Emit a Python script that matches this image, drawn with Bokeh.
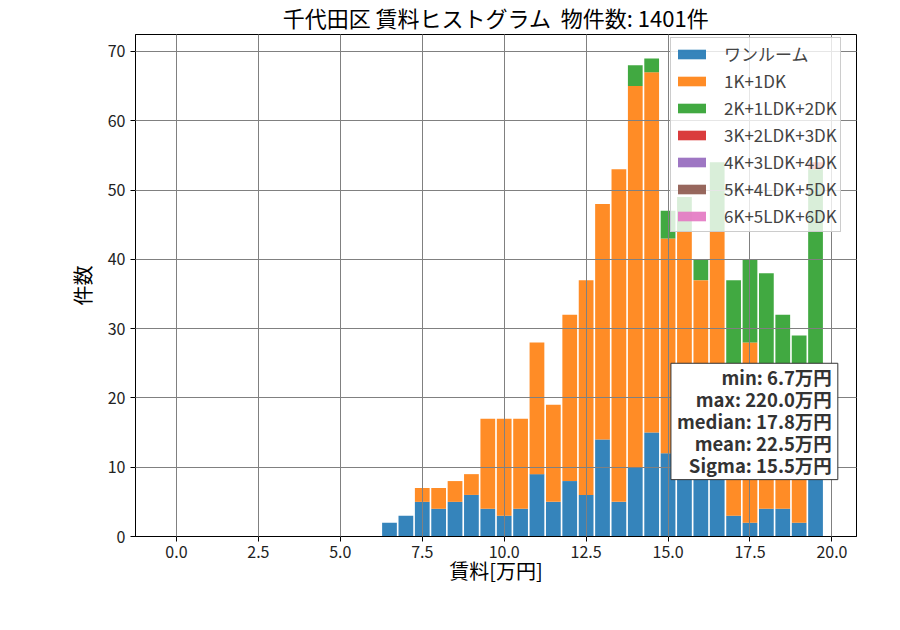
# 千代田区 賃料ヒストグラム (stacked by floor plan) with bokeh

from bokeh.plotting import figure
from bokeh.models import Range1d, FixedTicker, PrintfTickFormatter, Label, ColumnDataSource
from bokeh.embed import file_html
from bokeh.resources import INLINE

FONT = "Noto Sans CJK JP"

# bin centres [万円] (bins 0.5 wide)
rent = [6.5, 7.0, 7.5, 8.0, 8.5, 9.0, 9.5, 10.0, 10.5, 11.0, 11.5, 12.0, 12.5, 13.0,
        13.5, 14.0, 14.5, 15.0, 15.5, 16.0, 16.5, 17.0, 17.5, 18.0, 18.5, 19.0, 19.5]

oneroom = [2, 3, 5, 4, 5, 6, 4, 3, 4, 9, 5, 8, 6, 14, 5, 10, 15, 12, 11, 10, 9, 3, 2, 4, 4, 2, 10]
k1_1dk = [0, 0, 2, 3, 3, 3, 13, 14, 13, 19, 14, 24, 31, 34, 48, 55, 52, 31, 33, 27, 35, 22, 26, 17, 16, 20, 10]
k2_2dk = [0, 0, 0, 0, 0, 0, 0, 0, 0, 0, 0, 0, 0, 0, 0, 3, 2, 4, 5, 3, 10, 12, 12, 17, 12, 7, 33]
k3_3dk = [0, 0, 0, 0, 0, 0, 0, 0, 0, 0, 0, 0, 0, 0, 0, 0, 0, 0, 0, 0, 0, 0, 0, 0, 0, 0, 1]
k4_4dk = [0] * len(rent)
k5_5dk = [0] * len(rent)
k6_6dk = [0] * len(rent)

layouts = ["ワンルーム", "1K+1DK", "2K+1LDK+2DK", "3K+2LDK+3DK",
           "4K+3LDK+4DK", "5K+4LDK+5DK", "6K+5LDK+6DK"]
colors = ["#1f77b4", "#ff7f0e", "#2ca02c", "#d62728", "#9467bd", "#8c564b", "#e377c2"]

stat_names = ["min", "max", "median", "mean", "Sigma"]
stat_values = [6.7, 220.0, 17.8, 22.5, 15.5]
total = 1401

keys = ["c%d" % i for i in range(len(layouts))]
source = ColumnDataSource(dict(rent=rent, c0=oneroom, c1=k1_1dk, c2=k2_2dk, c3=k3_3dk,
                               c4=k4_4dk, c5=k5_5dk, c6=k6_6dk))

p = figure(
    width=900, height=630,
    title=f"千代田区 賃料ヒストグラム \u00a0物件数: {total}件",
    x_axis_label="賃料[万円]",
    y_axis_label="件数",
    output_backend="svg",
    toolbar_location=None,
    min_border_left=135, min_border_right=44, min_border_top=32, min_border_bottom=94,
)
p.x_range = Range1d(-1.25, 20.75)
p.y_range = Range1d(0, 72.45)

p.vbar_stack(keys, x="rent", width=0.45, source=source, color=colors,
             fill_alpha=0.9, line_color=None, legend_label=layouts)

# title / axes
p.title.text_font = FONT
p.title.text_font_size = "22px"
p.title.text_font_style = "normal"
p.title.text_color = "black"
p.title.align = "center"
p.title.vertical_align = "top"
p.title.standoff = 0
p.title.text_line_height = 0.8

p.outline_line_color = "black"
p.outline_line_alpha = 1
p.xaxis.ticker = FixedTicker(ticks=[0, 2.5, 5, 7.5, 10, 12.5, 15, 17.5, 20])
p.xaxis.formatter = PrintfTickFormatter(format="%.1f")
p.yaxis.ticker = FixedTicker(ticks=[0, 10, 20, 30, 40, 50, 60, 70])
for ax in (p.xaxis, p.yaxis):
    ax.axis_line_color = "black"
    ax.major_tick_line_color = "black"
    ax.major_tick_in = 0
    ax.major_tick_out = 5
    ax.minor_tick_line_color = None
    ax.major_label_text_font = FONT
    ax.major_label_text_font_size = "16px"
    ax.major_label_text_color = "#222222"
    ax.axis_label_text_font = FONT
    ax.axis_label_text_font_size = "20px"
    ax.axis_label_text_font_style = "normal"
    ax.axis_label_text_color = "black"
p.xaxis.major_label_standoff = 4
p.xaxis.axis_label_standoff = -5
p.yaxis.major_label_standoff = 5
p.yaxis.axis_label_standoff = 8

for g in (p.xgrid, p.ygrid):
    g.grid_line_color = "#808080"
    g.grid_line_width = 1
    g.level = "guide"

# legend (location: bottom-left corner, px from the frame's bottom-left)
lg = p.legend[0]
lg.location = (535, 304)
lg.padding = 3
lg.spacing = 2
lg.glyph_width = 35
lg.glyph_height = 12
lg.label_height = 21
lg.label_standoff = 15
lg.label_text_font = FONT
lg.label_text_font_size = "17px"
lg.label_text_line_height = 0.9
lg.background_fill_alpha = 0.8
lg.border_line_color = "#cccccc"
lg.border_line_alpha = 1

# statistics box
stats_text = "\n".join(f"{n}: {v:.1f}万円" for n, v in zip(stat_names, stat_values))
stats = Label(x=20.18, y=25.0, text=stats_text, text_align="right", text_baseline="top",
              text_font=FONT, text_font_size="18.5px", text_font_style="bold",
              text_color="#333333", text_line_height=0.84,
              background_fill_color="white", background_fill_alpha=1,
              border_line_color="#333333", border_line_width=1,
              padding=dict(left=6, right=6, top=1, bottom=2))
p.add_layout(stats)

open("out.html", "w").write(file_html(p, INLINE))
